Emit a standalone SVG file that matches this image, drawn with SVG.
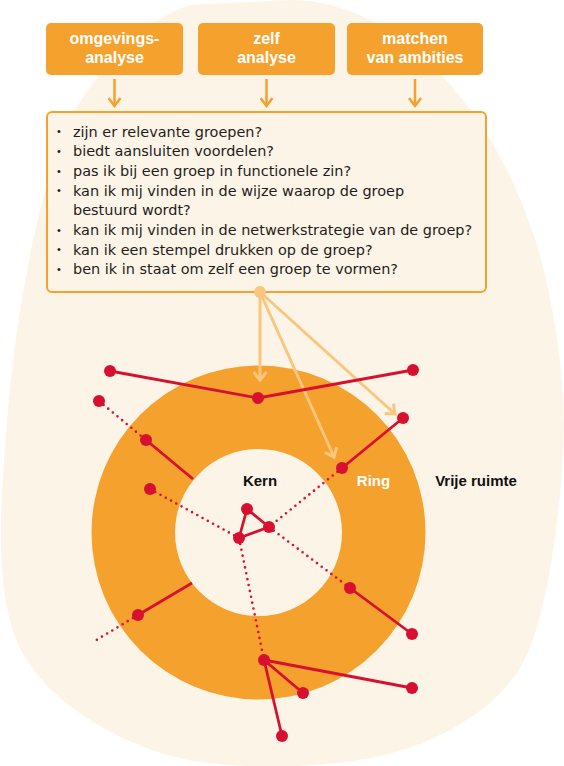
<svg xmlns="http://www.w3.org/2000/svg" width="564" height="766" viewBox="0 0 564 766">
<style>
.blob{fill:#fdf4e8}
.hbox{fill:#f5a12e}
.htxt{font-family:"Liberation Sans",Arial,sans-serif;font-weight:bold;font-size:16px;fill:#ffffff;text-anchor:middle}
.qbox{fill:#fdf4e8;stroke:#f5a12e;stroke-width:2}
.q{font-family:"DejaVu Sans","Liberation Sans",sans-serif;font-size:14.45px;fill:#1d1d1b}
.b{font-family:"Liberation Sans",sans-serif;font-size:11px;fill:#1d1d1b}
.oarr{stroke:#f5a12e;stroke-width:2.5;fill:none}
.larr{stroke:#fac67e;stroke-width:3;fill:none}
.solid{stroke:#d7102f;stroke-width:2.8;fill:none;stroke-linejoin:round}
.dot{stroke:#d7102f;stroke-width:2.6;fill:none;stroke-linecap:round;stroke-dasharray:0 6}
.node{fill:#d7102f}
.lbl{font-family:"Liberation Sans",Arial,sans-serif;font-weight:bold;font-size:15px;text-anchor:middle}
</style>
<defs>
<marker id="ah" viewBox="0 0 12 14" refX="9.5" refY="7" markerWidth="12" markerHeight="14" markerUnits="userSpaceOnUse" orient="auto">
<path d="M1.5,1 L9.5,7 L1.5,13" fill="none" stroke="#f5a12e" stroke-width="2.5"/>
</marker>
<marker id="lah" viewBox="0 0 12 15" refX="9.5" refY="7.5" markerWidth="12" markerHeight="15" markerUnits="userSpaceOnUse" orient="auto">
<path d="M1.5,1 L9.5,7.5 L1.5,14" fill="none" stroke="#fac67e" stroke-width="3"/>
</marker>
</defs>
<path class="blob" d="M290,0 C360,0 420,45 463,100 C500,148 520,195 533,233 C548,275 564,360 564,422 C564,484 550,620 520,668 C490,716 430,745 380,756 C330,767 260,770 200,762 C140,754 50,710 20,648 C-10,586 3,480 7,422 C11,364 30,210 67,128 C80,90 140,20 190,5 Z"/>

<g id="ring">
<circle cx="258.5" cy="532.5" r="167" fill="#f5a12e"/>
<circle cx="258.5" cy="532.5" r="83.5" fill="#fdf4e8"/>
</g>

<g id="box-omgevingsanalyse">
<rect class="hbox" x="46" y="23" width="137" height="52" rx="5"/>
<text class="htxt" x="114.5" y="44">omgevings-</text>
<text class="htxt" x="114.5" y="63">analyse</text>
</g>
<g id="box-zelfanalyse">
<rect class="hbox" x="198" y="23" width="137" height="52" rx="5"/>
<text class="htxt" x="266.5" y="44">zelf</text>
<text class="htxt" x="266.5" y="63">analyse</text>
</g>
<g id="box-matchen">
<rect class="hbox" x="347" y="23" width="136" height="52" rx="5"/>
<text class="htxt" x="415" y="44">matchen</text>
<text class="htxt" x="415" y="63">van ambities</text>
</g>

<g id="vragen">
<rect class="qbox" x="47" y="112" width="439" height="180" rx="5"/>
<text class="b" x="57" y="135">•</text>
<text class="q" x="73" y="136.5">zijn er relevante groepen?</text>
<text class="b" x="57" y="155">•</text>
<text class="q" x="73" y="156.2">biedt aansluiten voordelen?</text>
<text class="b" x="57" y="175">•</text>
<text class="q" x="73" y="175.9">pas ik bij een groep in functionele zin?</text>
<text class="b" x="57" y="194">•</text>
<text class="q" x="73" y="195.6">kan ik mij vinden in de wijze waarop de groep</text>
<text class="q" x="73" y="215.3">bestuurd wordt?</text>
<text class="b" x="57" y="234">•</text>
<text class="q" x="73" y="235">kan ik mij vinden in de netwerkstrategie van de groep?</text>
<text class="b" x="57" y="253">•</text>
<text class="q" x="73" y="254.7">kan ik een stempel drukken op de groep?</text>
<text class="b" x="57" y="273">•</text>
<text class="q" x="73" y="274.4">ben ik in staat om zelf een groep te vormen?</text>
</g>

<g id="labels">
<text class="lbl" x="260" y="486" fill="#111111">Kern</text>
<text class="lbl" x="373.5" y="486" fill="#ffffff">Ring</text>
<text class="lbl" x="476" y="486" fill="#111111">Vrije ruimte</text>
</g>

<g id="connectors">
<line class="oarr" x1="114.5" y1="79" x2="114.5" y2="106" marker-end="url(#ah)"/>
<line class="oarr" x1="266.5" y1="79" x2="266.5" y2="106" marker-end="url(#ah)"/>
<line class="oarr" x1="415" y1="79" x2="415" y2="106" marker-end="url(#ah)"/>
<line class="larr" x1="260" y1="292" x2="260" y2="380" marker-end="url(#lah)"/>
<line class="larr" x1="260" y1="292" x2="334" y2="457" marker-end="url(#lah)"/>
<line class="larr" x1="260" y1="292" x2="395" y2="414" marker-end="url(#lah)"/>
<circle cx="260" cy="292" r="6" fill="#fac67e"/>
</g>

<g id="network">
<polyline class="solid" points="110,371 258,398 413,370"/>
<line class="dot" x1="99" y1="401" x2="146" y2="440"/>
<line class="solid" x1="146" y1="440" x2="193" y2="479"/>
<line class="dot" x1="150" y1="489" x2="239" y2="538"/>
<line class="solid" x1="403" y1="418" x2="342" y2="468"/>
<line class="dot" x1="342" y1="468" x2="269" y2="527"/>
<polygon class="solid" points="247,509 269,527 239,538"/>
<line class="dot" x1="269" y1="527" x2="350" y2="588"/>
<line class="solid" x1="350" y1="588" x2="412" y2="634"/>
<line class="dot" x1="239" y1="538" x2="264" y2="660"/>
<line class="solid" x1="264" y1="660" x2="303" y2="693"/>
<line class="solid" x1="264" y1="660" x2="412" y2="688"/>
<line class="solid" x1="264" y1="660" x2="282" y2="736"/>
<line class="solid" x1="192" y1="583" x2="138" y2="615"/>
<line class="dot" x1="138" y1="615" x2="93" y2="642"/>
<circle class="node" cx="110" cy="371" r="6"/>
<circle class="node" cx="258" cy="398" r="6"/>
<circle class="node" cx="413" cy="370" r="6"/>
<circle class="node" cx="99" cy="401" r="6"/>
<circle class="node" cx="146" cy="440" r="6"/>
<circle class="node" cx="150" cy="489" r="6"/>
<circle class="node" cx="403" cy="418" r="6"/>
<circle class="node" cx="342" cy="468" r="6"/>
<circle class="node" cx="247" cy="509" r="6"/>
<circle class="node" cx="269" cy="527" r="6"/>
<circle class="node" cx="239" cy="538" r="6"/>
<circle class="node" cx="350" cy="588" r="6"/>
<circle class="node" cx="412" cy="634" r="6"/>
<circle class="node" cx="264" cy="660" r="6"/>
<circle class="node" cx="303" cy="693" r="6"/>
<circle class="node" cx="412" cy="688" r="6"/>
<circle class="node" cx="282" cy="736" r="6"/>
<circle class="node" cx="138" cy="615" r="6"/>
</g>
</svg>
